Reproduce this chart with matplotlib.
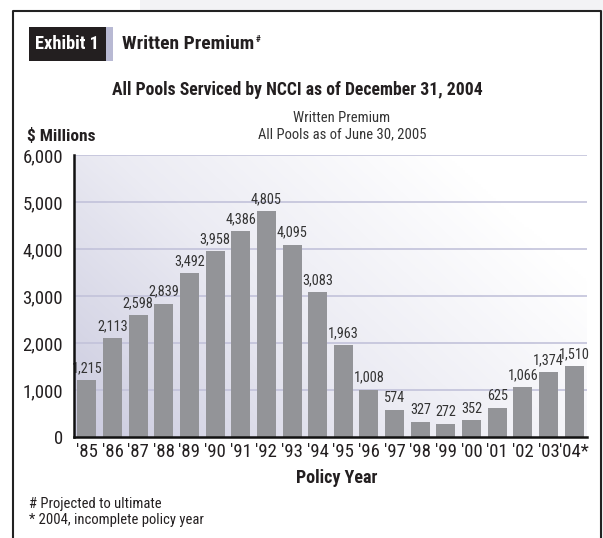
import matplotlib
matplotlib.use("Agg")
import matplotlib.pyplot as plt
import numpy as np
from matplotlib.patches import Rectangle
from matplotlib.lines import Line2D
from matplotlib.colors import LinearSegmentedColormap

plt.rcParams['font.family'] = ['Roboto Condensed', 'DejaVu Sans']

years = ["'85", "'86", "'87", "'88", "'89", "'90", "'91", "'92", "'93", "'94",
         "'95", "'96", "'97", "'98", "'99", "'00", "'01", "'02", "'03", "'04*"]
premium = [1215, 2113, 2598, 2839, 3492, 3958, 4386, 4805, 4095, 3083,
           1963, 1008, 574, 327, 272, 352, 625, 1066, 1374, 1510]
yticks = [0, 1000, 2000, 3000, 4000, 5000, 6000]

W, H = 603, 538
fig = plt.figure(figsize=(W / 100, H / 100), dpi=100)
fig.patch.set_facecolor('white')

def fx(px):
    return px / W

def fy(py):
    return 1 - py / H

# light gray page band
fig.patches.append(Rectangle((fx(140), fy(11)), 1 - fx(140), 11 / H, transform=fig.transFigure,
                             facecolor='#f3f3f5', edgecolor='none', zorder=0))
fig.patches.append(Rectangle((fx(601), 0), 1 - fx(601), 1, transform=fig.transFigure,
                             facecolor='#f3f3f5', edgecolor='none', zorder=0))
# frame
fig.lines.append(Line2D([fx(13), fx(13), fx(601), fx(601)], [0, fy(11), fy(11), 0],
                        transform=fig.transFigure, color='#222222', lw=1.5, zorder=1))

# Exhibit box
fig.patches.append(Rectangle((fx(29), fy(61)), fx(106) - fx(29), 34 / H, transform=fig.transFigure,
                             facecolor='#231f20', edgecolor='none', zorder=2))
fig.patches.append(Rectangle((fx(106), fy(61)), fx(113) - fx(106), 34 / H, transform=fig.transFigure,
                             facecolor='#b8b9d3', edgecolor='none', zorder=2))
fig.text(fx(67), fy(44), 'Exhibit 1', color='white', fontsize=13.2, fontweight='bold',
         ha='center', va='center')
t1 = fig.text(fx(122), fy(44), 'Written Premium', color='#231f20', fontsize=14, fontweight='bold',
              ha='left', va='center')
fig.canvas.draw()
bb = t1.get_window_extent()
fig.text(bb.x1 / W + 0.002, fy(39), '#', color='#231f20', fontsize=6.5, fontweight='bold',
         ha='left', va='center')

fig.text(fx(297), fy(90), 'All Pools Serviced by NCCI as of December 31, 2004', color='#231f20',
         fontsize=12.7, fontweight='bold', ha='center', va='center')
fig.text(fx(342), fy(118), 'Written Premium', color='#333333', fontsize=10.5, ha='center', va='center')
fig.text(fx(342), fy(134), 'All Pools as of June 30, 2005', color='#333333', fontsize=10.5,
         ha='center', va='center')
fig.text(fx(27), fy(136), '$ Millions', color='#231f20', fontsize=12.5, fontweight='bold',
         ha='left', va='center')

ax = fig.add_axes([fx(74), fy(437), fx(587) - fx(74), (437 - 155) / H])
ax.set_xlim(-0.5, len(years) - 0.5)
ax.set_ylim(0, 6000)

# gradient background
nx, ny = 200, 120
gx = np.linspace(0, 1, nx)
gy = np.linspace(0, 1, ny)
GX, GY = np.meshgrid(gx, gy)
t = np.clip(0.75 * GX + 0.45 * GY, 0, 1)
cmap = LinearSegmentedColormap.from_list('g', ['#cbcbdf', '#ebebf3', '#ffffff'])
ax.imshow(t, extent=(-0.5, len(years) - 0.5, 0, 6000), origin='lower', aspect='auto',
          cmap=cmap, vmin=0, vmax=1, zorder=0, interpolation='bilinear')

for v in yticks[1:]:
    ax.axhline(v, color='#c2c2da', lw=1.2, zorder=1)

x = np.arange(len(years))
bars = ax.bar(x, premium, width=0.74, color='#939498', zorder=2)
for xi, v in zip(x, premium):
    ax.annotate(f'{v:,}', (xi, v), xytext=(0, 3.5), textcoords='offset points',
                ha='center', va='bottom', fontsize=10.3, color='#333333', zorder=3)

ax.set_xticks(x)
ax.set_xticklabels(years, fontsize=13.5, color='#231f20')
ax.set_yticks(yticks)
ax.set_yticklabels([f'{v:,}' for v in yticks], fontsize=13.5, color='#231f20')
ax.tick_params(axis='both', length=0, pad=4)
ax.tick_params(axis='y', pad=8)
for s in ['top', 'right']:
    ax.spines[s].set_visible(False)
ax.spines['left'].set_color('#111111')
ax.spines['left'].set_linewidth(1.8)
ax.spines['bottom'].set_color('#111111')
ax.spines['bottom'].set_linewidth(1.8)
ax.spines['left'].set_zorder(4)
ax.spines['bottom'].set_zorder(4)

fig.text(fx(337), fy(478), 'Policy Year', color='#231f20', fontsize=13, fontweight='bold',
         ha='center', va='center')
fig.text(fx(29), fy(504), '# Projected to ultimate', color='#231f20', fontsize=10.5, ha='left', va='center')
fig.text(fx(29), fy(520), '* 2004, incomplete policy year', color='#231f20', fontsize=10.5,
         ha='left', va='center')

fig.savefig('out.png', dpi=100)
